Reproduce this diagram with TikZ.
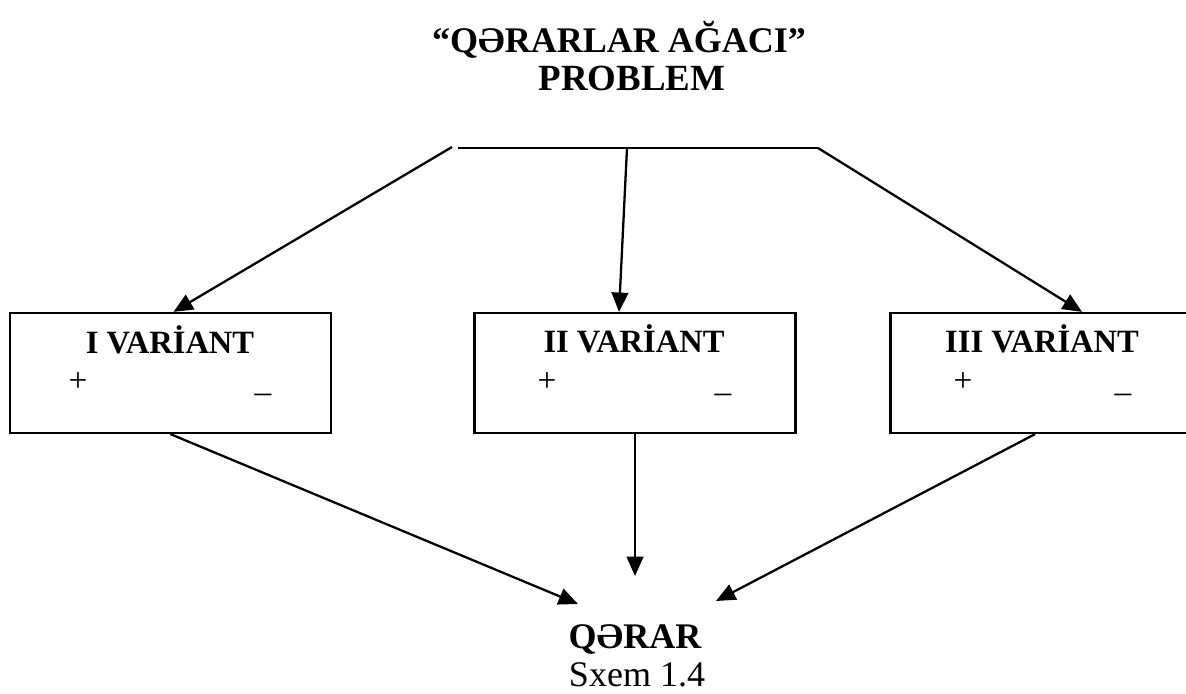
\documentclass[tikz,border=0pt]{standalone}
\usepackage{fontspec}
\setmainfont{Liberation Serif}
\usetikzlibrary{positioning, arrows.meta, calc}

\begin{document}
\begin{tikzpicture}[x=0.02cm, y=-0.02cm, line width=1.3pt,
    ->/.style={-{Triangle[length=11pt, width=9.5pt]}},
    varbox/.style={draw, rectangle, minimum width=6.42cm, minimum height=2.4cm},
    big/.style={font=\fontsize{20.5}{24}\selectfont\bfseries, anchor=base},
    head/.style={font=\fontsize{18.5}{21}\selectfont\bfseries, anchor=base},
    sign/.style={font=\fontsize{19}{21}\selectfont, anchor=base}]
  \useasboundingbox (0,0) rectangle (1186,693);
  % title
  \node [big] (title) at (619,52) {“QƏRARLAR AĞACI”};
  \node [big, font=\fontsize{21}{24}\selectfont\bfseries] (problem) at (632,90) {PROBLEM};
  \coordinate (lineL) at (458,148);
  \coordinate (lineR) at (818,148);
  \coordinate (splitL) at (452,147);
  \coordinate (splitM) at (627,148);
  \draw (lineL) -- (lineR);
  % variants
  \node [varbox] (ibox) at (170.5,373) {};
  \node [varbox] (iibox) at (635,373) {};
  \node [varbox] (iiibox) at (1051,373) {};
  \node [head] (ihead) at (170,353) {I VARİANT};
  \node [head] (iihead) at (634,352) {II VARİANT};
  \node [head] (iiihead) at (1042,352) {III VARİANT};
  \node [sign] (iplus) at (78,391) {+};
  \node [sign] (iminus) at (263,391) {\_};
  \node [sign] (iiplus) at (547,391) {+};
  \node [sign] (iiminus) at (723,391) {\_};
  \node [sign] (iiiplus) at (963,391) {+};
  \node [sign] (iiiminus) at (1123,391) {\_};
  \draw[->] (splitL) -- ($(ibox.north)+(3,0)$);
  \draw[->] (splitM) -- ($(iibox.north)+(-16,0)$);
  \draw[->] (lineR) -- ($(iiibox.north)+(31,0)$);
  % decision
  \node [big] (qerar) at (635,648) {QƏRAR};
  \node [font=\fontsize{20.5}{24}\selectfont, anchor=base] (sxem) at (637,686) {Sxem 1.4};
  \coordinate (inL) at (578,604);
  \coordinate (inM) at (635,576);
  \coordinate (inR) at (716,601);
  \draw[->] (ibox.south) -- (inL);
  \draw[->] (iibox.south) -- (inM);
  \draw[->] ($(iiibox.south)+(-16,0)$) -- (inR);
\end{tikzpicture}
\end{document}
